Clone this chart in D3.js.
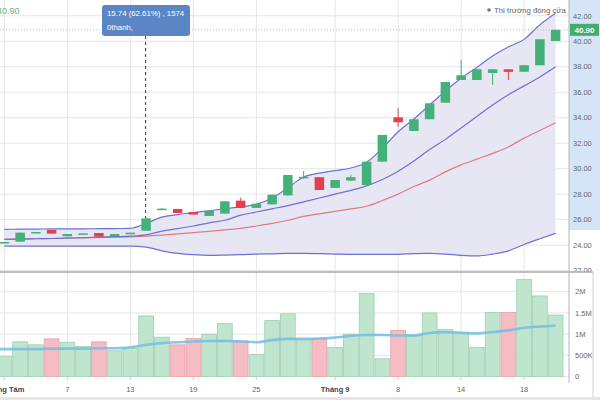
<!DOCTYPE html>
<html><head><meta charset="utf-8">
<script src="https://cdn.jsdelivr.net/npm/d3@7"></script>
<style>body{margin:0;background:#fff}svg{display:block;font-family:"Liberation Sans",Arial,sans-serif}</style>
</head><body><svg id="c" width="600" height="400"></svg>
<script>
const dates = ["01/08","02/08","03/08","04/08","07/08","08/08","09/08","10/08","13/08","14/08","15/08","16/08","19/08","20/08","21/08","22/08","25/08","26/08","27/08","28/08","29/08","01/09","04/09","05/09","06/09","08/09","11/09","12/09","13/09","14/09","15/09","16/09","17/09","18/09","19/09","20/09"];
const opens  = [24.20,24.27,25.00,25.19,24.69,24.89,24.95,24.69,24.85,25.13,26.82,26.84,26.60,26.29,26.47,27.49,26.92,27.20,27.90,29.30,29.33,28.49,29.06,28.72,30.55,34.03,32.96,33.88,35.18,36.96,36.96,37.51,37.80,37.61,38.12,40.02];
const closes = [24.24,24.98,25.03,24.90,24.87,24.92,24.66,24.87,24.98,26.10,26.86,26.52,26.40,26.70,27.44,26.92,27.25,27.96,29.50,29.36,28.33,29.11,29.33,30.55,32.65,33.64,33.88,35.13,36.80,37.33,37.80,37.80,37.60,38.12,40.16,40.90];
const highs  = [24.24,24.98,25.03,25.19,24.87,24.92,24.95,24.87,24.98,26.10,26.92,26.84,26.60,26.70,27.44,27.72,27.25,27.96,29.50,29.82,29.33,29.11,29.53,30.55,32.65,34.74,33.88,35.13,36.80,38.53,37.80,37.80,37.80,38.12,40.16,40.90];
const lows   = [24.20,24.27,25.00,24.90,24.69,24.89,24.66,24.69,24.85,25.13,26.78,26.52,26.40,26.29,26.47,26.92,26.92,27.20,27.90,29.20,28.33,28.49,29.06,28.72,30.55,33.30,32.96,33.88,35.18,36.96,36.96,36.57,36.96,37.61,38.12,40.02];
const volumes = [0.47,0.82,0.75,0.89,0.81,0.71,0.82,0.61,0.67,1.43,0.93,0.75,0.90,1.00,1.25,0.84,0.52,1.32,1.48,0.88,0.90,0.69,1.00,1.96,0.42,1.09,0.98,1.50,1.11,1.05,0.69,1.51,1.51,2.29,1.90,1.45].map(v=>v*1e6);
const volumeMA = [0.65,0.65,0.65,0.66,0.66,0.66,0.67,0.67,0.69,0.75,0.79,0.81,0.83,0.84,0.84,0.83,0.81,0.86,0.89,0.89,0.90,0.92,0.96,0.98,0.98,0.97,0.97,1.03,1.05,1.03,1.02,1.05,1.09,1.15,1.18,1.20].map(v=>v*1e6);
const upperBand = [25.24,25.25,25.26,25.27,25.28,25.28,25.29,25.30,25.32,25.70,26.20,26.40,26.55,26.70,26.85,27.00,27.20,27.70,28.50,29.35,29.65,29.85,30.05,30.50,31.60,32.90,33.90,35.00,36.10,37.10,37.95,38.85,39.55,40.15,41.30,42.20];
const innerLine = [24.45,24.47,24.50,24.52,24.55,24.58,24.62,24.66,24.70,24.80,25.10,25.30,25.50,25.75,25.95,26.35,26.60,26.85,27.10,27.40,27.70,28.00,28.30,28.65,29.15,29.80,30.60,31.50,32.30,33.20,34.10,35.00,35.80,36.50,37.20,38.00];
const midLine = [24.45,24.47,24.50,24.52,24.55,24.57,24.60,24.62,24.65,24.70,24.78,24.88,24.98,25.08,25.20,25.32,25.50,25.70,25.95,26.25,26.45,26.65,26.85,27.05,27.50,28.00,28.60,29.10,29.75,30.30,30.75,31.20,31.70,32.40,33.00,33.60];
const lowerBand = [23.92,23.92,23.92,23.92,23.92,23.92,23.92,23.92,23.92,23.85,23.55,23.35,23.25,23.20,23.22,23.25,23.30,23.32,23.35,23.35,23.33,23.30,23.28,23.27,23.27,23.28,23.33,23.35,23.30,23.20,23.15,23.30,23.55,24.05,24.50,24.93];
const tickDates = ["01/08","07/08","13/08","19/08","25/08","01/09","08/09","14/09","18/09"];
const tickTexts = ["Tháng Tám","7","13","19","25","Tháng 9","8","14","18"];
const boldTicks = ["Tháng Tám","Tháng 9"];
const priceTicks = [22,24,26,28,30,32,34,36,38,40,42];
const volumeTicks = [0,5e5,1e6,1.5e6,2e6];
const lastPrice = 40.90;
const legendText = "Thị trường đóng cửa";
const tooltipLines = ["15.74 (62.61%) , 1574","0thanh,"];

const svg = d3.select("#c");
const W = 569;
const x = d3.scaleBand().domain(dates).range([-3.5, 563.5]).padding(0);
const cx = d => x(d) + x.bandwidth()/2;
const y = d3.scaleLinear().domain([22,42]).range([270.6,15.8]);
const yv = d3.scaleLinear().domain([0,2e6]).range([376.7,291.7]);

const defs = svg.append("defs");
defs.append("clipPath").attr("id","cp").append("rect").attr("x",0).attr("y",0).attr("width",W).attr("height",272);
defs.append("clipPath").attr("id","cv").append("rect").attr("x",0).attr("y",272).attr("width",W).attr("height",105);

// axis highlight
svg.append("rect").attr("x",W).attr("y",0).attr("width",600-W).attr("height",230).attr("fill","#d6e4f7");

// price panel
const gp = svg.append("g").attr("clip-path","url(#cp)");
gp.selectAll(".hg").data(priceTicks).join("line").attr("x1",0).attr("x2",W).attr("y1",d=>y(d)).attr("y2",d=>y(d)).attr("stroke","#e6e6e6");
gp.selectAll(".vg").data(tickDates).join("line").attr("x1",d=>cx(d)).attr("x2",d=>cx(d)).attr("y1",0).attr("y2",272).attr("stroke","#e6e6e6");

const idx = d3.range(dates.length);
gp.append("path").datum(idx).attr("fill","#e4e4f3").attr("opacity",0.9)
  .attr("d", d3.area().x(i=>cx(dates[i])).y0(i=>y(lowerBand[i])).y1(i=>y(upperBand[i])).curve(d3.curveMonotoneX));
const lineGen = arr => d3.line().x(i=>cx(dates[i])).y(i=>y(arr[i])).curve(d3.curveMonotoneX);
gp.append("path").datum(idx).attr("fill","none").attr("stroke","#e27a84").attr("stroke-width",1.2).attr("d",lineGen(midLine));
[upperBand, innerLine, lowerBand].forEach(a=>{
  gp.append("path").datum(idx).attr("fill","none").attr("stroke","#6f6fd6").attr("stroke-width",1.2).attr("d",lineGen(a));
});

// last price dotted line
gp.append("line").attr("x1",0).attr("x2",W).attr("y1",y(lastPrice)).attr("y2",y(lastPrice)).attr("stroke","#8fd3a0").attr("stroke-dasharray","1,2");

// candles
const green="#44b07a", red="#e2404f";
const cw = 9.5;
const cg = gp.selectAll(".cd").data(idx).join("g");
cg.append("line").attr("x1",i=>cx(dates[i])).attr("x2",i=>cx(dates[i])).attr("y1",i=>y(highs[i])).attr("y2",i=>y(lows[i]))
  .attr("stroke",i=>closes[i]>=opens[i]?green:red).attr("stroke-width",1);
cg.append("rect").attr("x",i=>cx(dates[i])-cw/2).attr("width",cw)
  .attr("y",i=>y(Math.max(opens[i],closes[i])))
  .attr("height",i=>Math.max(1.5, Math.abs(y(opens[i])-y(closes[i]))))
  .attr("fill",i=>closes[i]>=opens[i]?green:red);

// tooltip crosshair
const ti = 9;
gp.append("line").attr("x1",cx(dates[ti])-0.5).attr("x2",cx(dates[ti])-0.5).attr("y1",36).attr("y2",y(highs[ti]))
  .attr("stroke","#333").attr("stroke-dasharray","3,3");

// price axis labels
svg.append("g").selectAll("text").data(priceTicks.filter(d=>d>=24)).join("text")
  .attr("x",573).attr("y",d=>y(d)+2.7).attr("font-size",7.5).attr("fill","#666").text(d=>d.toFixed(2));
svg.append("text").attr("x",573).attr("y",Math.min(y(22)+2.7,275)).attr("font-size",7.5).attr("fill","#666").text("22.00");

// volume panel
svg.append("rect").attr("x",0).attr("y",272).attr("width",593).attr("height",125).attr("fill","#fff");
const gv = svg.append("g").attr("clip-path","url(#cv)");
gv.selectAll(".hg").data(volumeTicks).join("line").attr("x1",0).attr("x2",W).attr("y1",d=>yv(d)).attr("y2",d=>yv(d)).attr("stroke","#e6e6e6");
gv.selectAll(".vg").data(tickDates).join("line").attr("x1",d=>cx(d)).attr("x2",d=>cx(d)).attr("y1",272).attr("y2",377).attr("stroke","#e6e6e6");
gv.selectAll(".vb").data(idx).join("rect").attr("x",i=>x(dates[i])+0.5).attr("width",x.bandwidth()-1)
  .attr("y",i=>yv(volumes[i])).attr("height",i=>yv(0)-yv(volumes[i]))
  .attr("fill",i=>closes[i]>=opens[i]?"#bfe5cf":"#f6bcc4")
  .attr("stroke",i=>closes[i]>=opens[i]?"#9ccfb2":"#eb9fab").attr("stroke-width",0.8);
gv.append("path").datum(idx).attr("fill","none").attr("stroke","#74bde0").attr("stroke-width",2.6).attr("opacity",0.85)
  .attr("d", d3.line().x(i=>i===0?0:cx(dates[i])).y(i=>yv(volumeMA[i])).curve(d3.curveMonotoneX));

svg.append("g").selectAll("text").data(volumeTicks).join("text")
  .attr("x",575).attr("y",d=>yv(d)+2.7).attr("font-size",7.5).attr("fill","#666")
  .text(d=>d===0?"0":d>=1e6?(d/1e6)+"M":(d/1e3)+"K");

// x axis
const xa = d3.axisBottom(x).tickValues(tickDates).tickFormat((d,i)=>tickTexts[i]).tickSize(3).tickPadding(7);
const gx = svg.append("g").attr("transform","translate(0,377)").call(xa);
gx.select(".domain").remove();
gx.selectAll("line").attr("stroke","#ccc");
gx.selectAll("text").attr("font-size",7.5).attr("fill",t=>boldTicks.includes(t)?"#444":"#666")
  .attr("font-weight",(d,i)=>boldTicks.includes(tickTexts[i])?"bold":"normal")
  .attr("font-family","'Liberation Sans',Arial,sans-serif");
gx.selectAll("text").attr("fill",(d,i)=>boldTicks.includes(tickTexts[i])?"#444":"#666");

// frames
svg.append("line").attr("x1",0).attr("x2",593).attr("y1",272).attr("y2",272).attr("stroke","#a8a8a8").attr("stroke-width",1.5);
svg.append("line").attr("x1",W).attr("x2",W).attr("y1",0).attr("y2",383).attr("stroke","#b5b5b5");
svg.append("line").attr("x1",593).attr("x2",593).attr("y1",272).attr("y2",397).attr("stroke","#d0d0d0");
svg.append("rect").attr("x",0).attr("y",397).attr("width",600).attr("height",3).attr("fill","#e6e6e6");

// last price labels
svg.append("rect").attr("x",W+1).attr("y",y(lastPrice)-6).attr("width",29).attr("height",12).attr("fill","#3fae6c");
svg.append("text").attr("x",W+15.5).attr("y",y(lastPrice)+3).attr("text-anchor","middle").attr("font-size",8).attr("font-weight","bold").attr("fill","#fff").text(lastPrice.toFixed(2));
svg.append("text").attr("x",19.5).attr("y",14).attr("text-anchor","end").attr("font-size",9).attr("fill","#5cb87a").text(lastPrice.toFixed(2));

// legend
svg.append("circle").attr("cx",489).attr("cy",10).attr("r",1.8).attr("fill","#777");
svg.append("text").attr("x",494).attr("y",12.5).attr("font-size",7.8).attr("fill","#666").text(legendText);

// tooltip
svg.append("rect").attr("x",102).attr("y",5).attr("width",88).attr("height",31).attr("rx",3).attr("fill","#5b86c5");
svg.append("text").attr("x",107).attr("y",16).attr("font-size",7.8).attr("fill","#fff").text(tooltipLines[0]);
svg.append("text").attr("x",107).attr("y",30).attr("font-size",7.8).attr("fill","#fff").text(tooltipLines[1]);
</script></body></html>
